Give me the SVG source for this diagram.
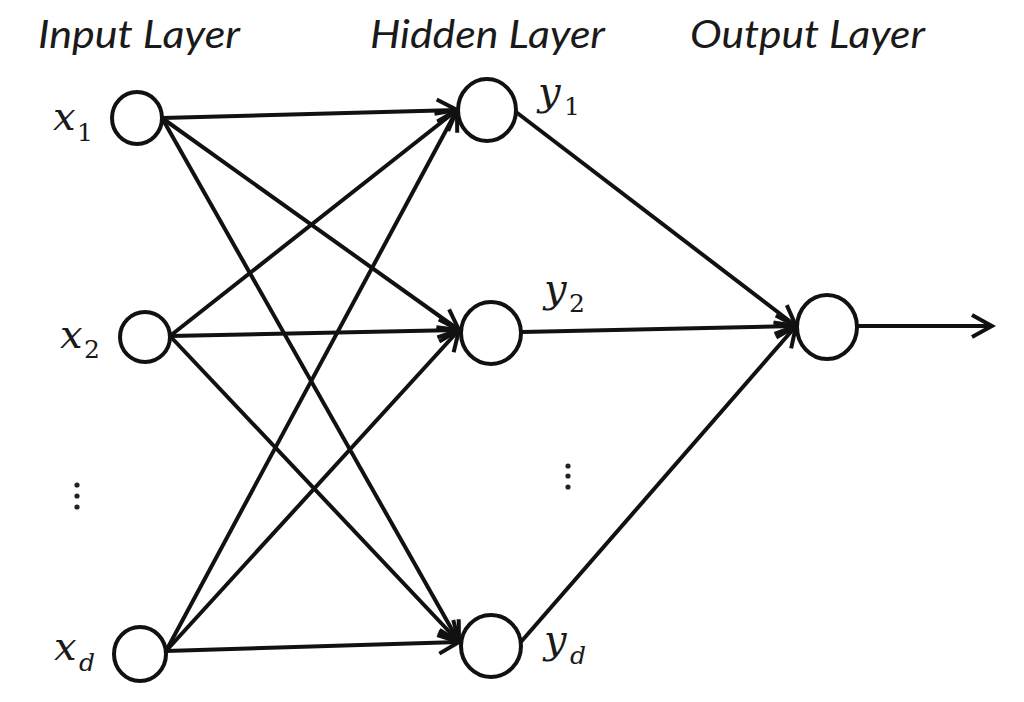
<svg xmlns="http://www.w3.org/2000/svg" width="1024" height="702" viewBox="0 0 1024 702">
<style>
.title{font-family:"Lato","Liberation Sans",sans-serif;font-style:italic;font-size:38px;fill:#1a1a1a}
.node{fill:#fff;stroke:#111;stroke-width:4}
.edge{stroke:#111;stroke-width:4;fill:none;marker-end:url(#arr)}
.var{font-family:"DejaVu Serif","Liberation Serif",serif;font-style:italic;font-size:40px;fill:#1a1a1a}
.sub{font-family:"DejaVu Serif","Liberation Serif",serif;font-size:25px;fill:#1a1a1a}
.subi{font-family:"DejaVu Serif","Liberation Serif",serif;font-style:italic;font-size:25px;fill:#1a1a1a}
.dot{fill:#222}
</style>
<defs>
<marker id="arr" markerUnits="userSpaceOnUse" viewBox="-24 -14 28 28" refX="0" refY="0" markerWidth="28" markerHeight="28" orient="auto">
<path d="M-20,-11 L0,0 L-20,11" fill="none" stroke="#111" stroke-width="4" stroke-linejoin="miter"/>
</marker>
</defs>
<rect width="1024" height="702" fill="#fff"/>
<g id="titles">
<text class="title" x="38" y="48" textLength="202" lengthAdjust="spacingAndGlyphs">Input Layer</text>
<text class="title" x="370" y="48" textLength="235" lengthAdjust="spacingAndGlyphs">Hidden Layer</text>
<text class="title" x="690" y="48" textLength="235" lengthAdjust="spacingAndGlyphs">Output Layer</text>
</g>
<g id="connectors">
<line class="edge" x1="162" y1="118" x2="457" y2="110"/>
<line class="edge" x1="162" y1="118" x2="459" y2="330"/>
<line class="edge" x1="162" y1="118" x2="459" y2="642"/>
<line class="edge" x1="170" y1="336" x2="457" y2="110"/>
<line class="edge" x1="170" y1="336" x2="459" y2="330"/>
<line class="edge" x1="170" y1="336" x2="459" y2="642"/>
<line class="edge" x1="166" y1="651" x2="457" y2="110"/>
<line class="edge" x1="166" y1="651" x2="459" y2="330"/>
<line class="edge" x1="166" y1="651" x2="459" y2="642"/>
<line class="edge" x1="516" y1="112" x2="796" y2="326"/>
<line class="edge" x1="522" y1="332" x2="796" y2="326"/>
<line class="edge" x1="520" y1="643" x2="796" y2="326"/>
<line class="edge" x1="857" y1="326" x2="992" y2="326"/>
</g>
<g id="x1"><ellipse class="node" cx="137" cy="118" rx="25" ry="26"/><text class="var" x="53" y="130">x</text><text class="sub" x="77" y="141">1</text></g>
<g id="x2"><ellipse class="node" cx="145" cy="337" rx="25" ry="25"/><text class="var" x="60" y="348">x</text><text class="sub" x="84" y="358">2</text></g>
<g id="xdots"><circle class="dot" cx="77" cy="485" r="2.6"/><circle class="dot" cx="77" cy="496" r="2.6"/><circle class="dot" cx="77" cy="507" r="2.6"/></g>
<g id="xd"><ellipse class="node" cx="140" cy="654" rx="26" ry="27"/><text class="var" x="54" y="660">x</text><text class="subi" x="79" y="671">d</text></g>
<g id="y1"><ellipse class="node" cx="487" cy="110" rx="29" ry="31"/><text class="var" x="538" y="105">y</text><text class="sub" x="564" y="115">1</text></g>
<g id="y2"><ellipse class="node" cx="491" cy="333" rx="30" ry="31"/><text class="var" x="544" y="302">y</text><text class="sub" x="569" y="312">2</text></g>
<g id="ydots"><circle class="dot" cx="568" cy="466" r="2.6"/><circle class="dot" cx="568" cy="476" r="2.6"/><circle class="dot" cx="568" cy="487" r="2.6"/></g>
<g id="yd"><ellipse class="node" cx="491" cy="646" rx="30" ry="31"/><text class="var" x="544" y="653">y</text><text class="subi" x="570" y="664">d</text></g>
<g id="output"><ellipse class="node" cx="827" cy="327" rx="30" ry="32"/></g>
</svg>
